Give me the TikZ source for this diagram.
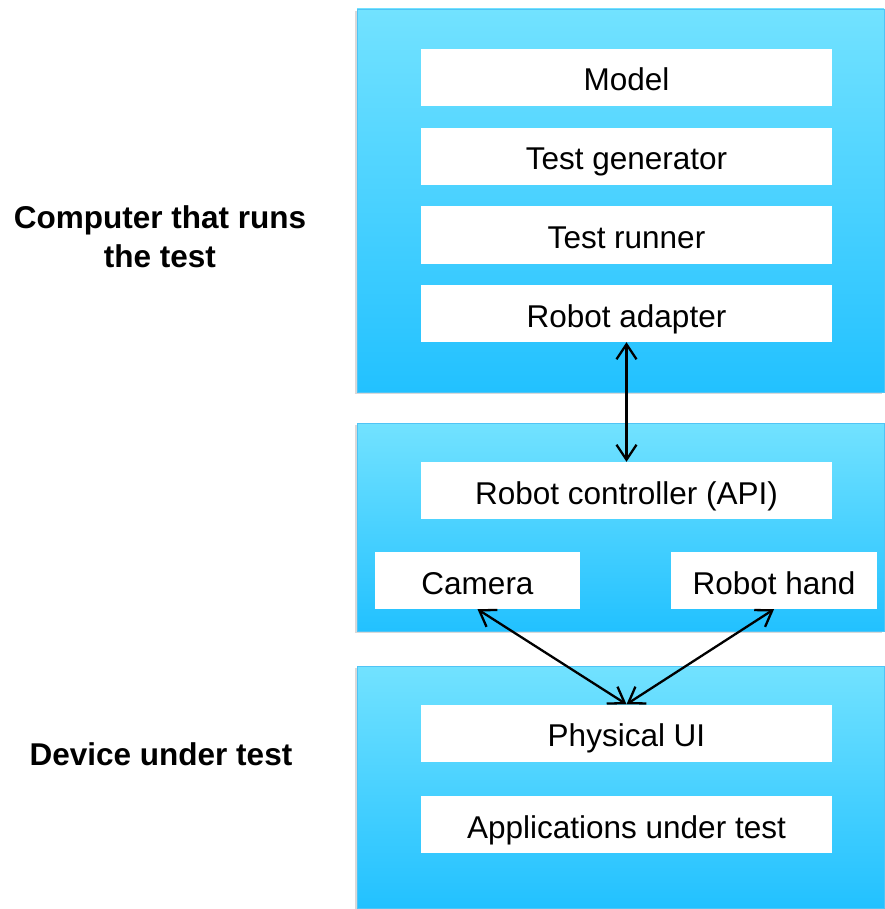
\documentclass[tikz,border=0pt]{standalone}
\usepackage{fontspec}
\setmainfont{Liberation Sans}
\usepackage{tikz}
\usetikzlibrary{arrows.meta,shadows}

\definecolor{layertop}{RGB}{114,226,255}
\definecolor{layerbot}{RGB}{34,193,255}
\definecolor{layeredge}{RGB}{80,196,245}

\begin{document}
\begin{tikzpicture}[x=1pt,y=-1pt,
        layer/.style={rectangle,draw=layeredge,line width=0.8pt,
            top color=layertop,bottom color=layerbot,
            drop shadow={opacity=0.3,shadow xshift=-2pt,shadow yshift=-2pt},
            minimum width=527pt,inner sep=0pt},
        part/.style={rectangle,fill=white,minimum height=57pt,inner sep=0pt,
            text height=29pt,text depth=2pt,
            font=\fontsize{31.5}{38}\selectfont},
        side/.style={align=center,font=\fontsize{31.5}{39}\selectfont\bfseries},
        link/.style={<->,>={Straight Barb[length=15pt,width=20pt]},line width=2.3pt}]
        \useasboundingbox (0,0) rectangle (884,909);
        % three layers
        \node[layer,minimum height=383pt] (pc) at (620.5,200.5) {};
        \node[layer,minimum height=208pt] (robot) at (620.5,527) {};
        \node[layer,minimum height=242pt] (dut) at (620.5,787) {};
        % computer
        \node[part,minimum width=411pt] (model) at (626.5,77.5) {Model};
        \node[part,minimum width=411pt] (gen) at (626.5,156.5) {Test generator};
        \node[part,minimum width=411pt] (runner) at (626.5,235) {Test runner};
        \node[part,minimum width=411pt] (adapter) at (626.5,313.5) {Robot adapter};
        % robot
        \node[part,minimum width=411pt] (ctrl) at (626.5,490.5) {Robot controller (API)};
        \node[part,minimum width=205pt] (camera) at (477.5,580.5) {Camera};
        \node[part,minimum width=206pt] (hand) at (774,580.5) {Robot hand};
        % device
        \node[part,minimum width=411pt] (ui) at (626.5,733) {Physical UI};
        \node[part,minimum width=411pt] (apps) at (626.5,824.5) {Applications under test};
        % labels
        \node[side] (pclabel) at (160,237) {Computer that runs\\the test};
        \node[side] (dutlabel) at (161,754) {Device under test};
        % links
        \draw[link] (adapter.south) -- (ctrl.north);
        \draw[link] (camera.south) -- (ui.north);
        \draw[link] (hand.south) -- (ui.north);
    \end{tikzpicture}
\end{document}
